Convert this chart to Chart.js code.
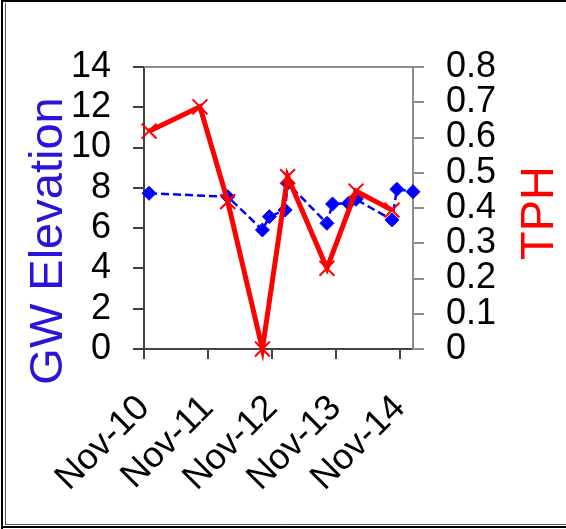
<!DOCTYPE html>
<html>
<head>
<meta charset="utf-8">
<script src="https://cdn.jsdelivr.net/npm/chart.js@4.4.1/dist/chart.umd.min.js"></script>
<style>
  html, body { margin: 0; padding: 0; background: #fff; }
  canvas { display: block; }
</style>
</head>
<body>
<canvas id="chart" width="566" height="529"></canvas>
<script>
// Groundwater elevation readings
const gwDates = ['2010-11-30', '2012-02-23', '2012-09-08', '2012-10-18', '2013-01-16', '2013-01-30',
                 '2013-09-12', '2013-10-14', '2014-01-13', '2014-02-25', '2014-09-19', '2014-10-17', '2015-01-17'];
const gwElevation = [7.73, 7.56, 5.91, 6.57, 6.90, 8.23, 6.24, 7.20, 7.23, 7.43, 6.41, 7.93, 7.81];

// TPH concentrations
const tphDates = ['2010-11-30', '2011-09-17', '2012-02-23', '2012-09-08', '2013-01-30',
                  '2013-09-12', '2014-02-25', '2014-09-19'];
const tphValues = [0.618, 0.687, 0.418, 0.0, 0.489, 0.229, 0.448, 0.394];

// Date axis ticks
const xTickDates = ['2010-11-01', '2011-11-01', '2012-11-01', '2013-11-01', '2014-11-01'];
const xTickLabels = ['Nov-10', 'Nov-11', 'Nov-12', 'Nov-13', 'Nov-14'];

const FONT = '"Liberation Sans", Arial, Helvetica, sans-serif';
const dayNum = s => Date.parse(s + 'T00:00:00Z') / 86400000;

const frameAndTitles = {
  id: 'frameAndTitles',
  beforeDraw(chart) {
    const ctx = chart.ctx;
    ctx.save();
    ctx.fillStyle = '#fff';
    ctx.fillRect(0, 0, chart.width, chart.height);
    // outer frame
    ctx.strokeStyle = '#000';
    ctx.lineWidth = 2;
    ctx.beginPath();
    ctx.moveTo(2, chart.height);
    ctx.lineTo(2, 1);
    ctx.lineTo(chart.width, 1);
    ctx.moveTo(2, chart.height - 2);
    ctx.lineTo(chart.width, chart.height - 2);
    ctx.stroke();
    ctx.lineWidth = 1;
    ctx.strokeStyle = '#555';
    ctx.beginPath();
    ctx.moveTo(5.5, chart.height - 4);
    ctx.lineTo(5.5, 3);
    ctx.moveTo(5.5, chart.height - 4.5);
    ctx.lineTo(chart.width, chart.height - 4.5);
    ctx.stroke();
    ctx.restore();
  },
  beforeDatasetsDraw(chart) {
    const { ctx, chartArea } = chart;
    ctx.save();
    ctx.strokeStyle = '#8c8c8c';
    ctx.lineWidth = 2;
    ctx.beginPath();
    ctx.moveTo(chartArea.left, chartArea.top);
    ctx.lineTo(chartArea.right + 1, chartArea.top);
    ctx.stroke();
    ctx.restore();
  },
  afterDraw(chart) {
    const { ctx, chartArea } = chart;
    const midY = (chartArea.top + chartArea.bottom) / 2;
    ctx.save();
    ctx.font = '47px ' + FONT;
    ctx.textAlign = 'center';
    ctx.textBaseline = 'alphabetic';

    ctx.fillStyle = '#2814dc';
    ctx.save();
    ctx.translate(62, midY + 33);
    ctx.rotate(-Math.PI / 2);
    ctx.fillText('GW Elevation', 0, 0);
    ctx.restore();

    ctx.fillStyle = '#ff0000';
    ctx.save();
    ctx.translate(553, midY + 5);
    ctx.rotate(-Math.PI / 2);
    ctx.fillText('TPH', 0, 0);
    ctx.restore();
    ctx.restore();
  }
};

new Chart(document.getElementById('chart'), {
  type: 'line',
  data: {
    datasets: [
      {
        label: 'TPH',
        yAxisID: 'y1',
        data: tphDates.map((d, i) => ({ x: dayNum(d), y: tphValues[i] })),
        borderColor: '#ff0000',
        borderWidth: 5,
        tension: 0,
        pointStyle: 'crossRot',
        pointRadius: 10.5,
        pointBorderWidth: 2,
        pointBorderColor: '#ff0000',
        pointBackgroundColor: '#ff0000',
        clip: false
      },
      {
        label: 'GW Elevation',
        yAxisID: 'y',
        data: gwDates.map((d, i) => ({ x: dayNum(d), y: gwElevation[i] })),
        borderColor: '#0000ff',
        borderWidth: 2.5,
        borderDash: [8, 4],
        tension: 0,
        pointStyle: 'rectRot',
        pointRadius: 7,
        pointBorderWidth: 1,
        pointBorderColor: '#0000ff',
        pointBackgroundColor: '#0000ff',
        clip: false
      }
    ]
  },
  options: {
    responsive: false,
    devicePixelRatio: 1,
    animation: false,
    layout: { padding: { top: 67, left: 0, right: 0, bottom: 0 } },
    plugins: { legend: { display: false }, tooltip: { enabled: false } },
    scales: {
      x: {
        type: 'linear',
        position: 'bottom',
        min: dayNum(xTickDates[0]),
        max: dayNum(gwDates[gwDates.length - 1]),
        afterBuildTicks: s => { s.ticks = xTickDates.map(d => ({ value: dayNum(d) })); },
        afterFit: s => { s.height = 180; },
        grid: { drawOnChartArea: false, drawTicks: true, tickLength: 10, color: '#444', lineWidth: 2 },
        border: { display: true, color: '#444', width: 2 },
        ticks: {
          autoSkip: false,
          maxRotation: 45,
          minRotation: 45,
          padding: 28,
          color: '#000',
          font: { family: FONT, size: 36 },
          callback: (v, i) => xTickLabels[i]
        }
      },
      y: {
        position: 'left',
        min: 0,
        max: 14,
        afterFit: s => { s.width = 144; },
        grid: { drawOnChartArea: false, drawTicks: true, tickLength: 11, color: '#404040', lineWidth: 2 },
        border: { display: true, color: '#404040', width: 2 },
        ticks: { autoSkip: false, stepSize: 2, padding: 22, color: '#000', font: { family: FONT, size: 36 } }
      },
      y1: {
        position: 'right',
        min: 0,
        max: 0.8,
        afterFit: s => { s.width = 153; },
        grid: { drawOnChartArea: false, drawTicks: true, tickLength: 11, color: '#8c8c8c', lineWidth: 2 },
        border: { display: true, color: '#8c8c8c', width: 2 },
        ticks: {
          autoSkip: false, stepSize: 0.1, padding: 22, color: '#000', font: { family: FONT, size: 36 },
          callback: v => String(+v.toFixed(1))
        }
      }
    }
  },
  plugins: [frameAndTitles]
});
</script>
</body>
</html>
